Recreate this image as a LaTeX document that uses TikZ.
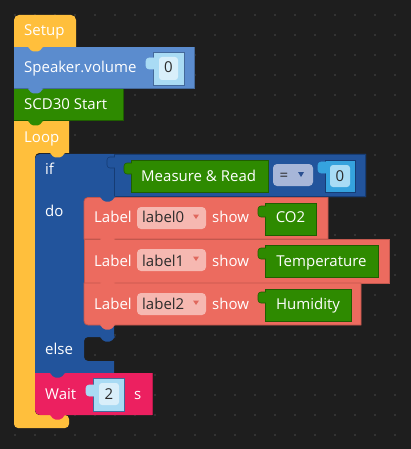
\documentclass[tikz,border=0pt]{standalone}
\usepackage{fontspec}
\setmainfont{Open Sans}
\definecolor{bg}{HTML}{1E1E1E}
\definecolor{dotc}{HTML}{4A4A4A}
\definecolor{yel}{HTML}{FFBF3C}
\definecolor{spk}{HTML}{5B8CCE}
\definecolor{spkd}{HTML}{44699B}
\definecolor{grn}{HTML}{2E8A00}
\definecolor{grnd}{HTML}{1F5E00}
\definecolor{ifb}{HTML}{22549C}
\definecolor{ifd}{HTML}{163C74}
\definecolor{lab}{HTML}{EC6B5F}
\definecolor{labd}{HTML}{C2574D}
\definecolor{ddb}{HTML}{F6B8B1}
\definecolor{waitc}{HTML}{EC2060}
\definecolor{waitd}{HTML}{B81A4B}
\definecolor{val}{HTML}{A9DBF4}
\definecolor{vali}{HTML}{D9EFFA}
\definecolor{cval}{HTML}{35A3DE}
\definecolor{cvali}{HTML}{A8DCF5}
\definecolor{eqb}{HTML}{A7B6D8}
\definecolor{eqarr}{HTML}{2A4F91}
\definecolor{ddarr}{HTML}{E0685D}
\definecolor{dtext}{HTML}{2B2B2B}
\newcommand\stab[3]{\fill[#3,rounded corners=1.5pt] (#1,#2-0.8) -- (#1,#2) -- (#1+4,#2+4.5) -- (#1+11,#2+4.5) -- (#1+15,#2) -- (#1+15,#2-0.8) -- cycle;}
\newcommand\vtab[4]{\filldraw[fill=#3,draw=#4,line width=0.6pt,rounded corners=3pt] (#1+0.8,#2+7) -- (#1-7,#2+7) -- (#1-7,#2+18) -- (#1+0.8,#2+18);}
\tikzset{
  txt/.style={anchor=base west,inner sep=0pt,text=white},
  dtx/.style={anchor=base,inner sep=0pt,text=dtext},
  wtx/.style={anchor=base,inner sep=0pt,text=white},
}
\begin{document}
\begin{tikzpicture}[x=1pt,y=-1pt,font=\fontsize{15}{18}\selectfont]
\useasboundingbox (0,0) rectangle (411,449);
\fill[bg] (0,0) rectangle (411,449);
\foreach \i in {0,...,19} \foreach \j in {0,...,21} \fill[dotc] (15+20*\i,15+20*\j) circle (0.8pt);
% Setup
\fill[yel] (14,47) [rounded corners=5pt] -- (14,15) -- (76,15) [sharp corners] -- (76,47) -- cycle;
% Loop
\fill[yel] (14,121) -- (69,121) -- (69,153) [rounded corners=4pt] -- (35,153) -- (35,415) -- (69,415) -- (69,428) -- (14,428) [sharp corners] -- cycle;
% Speaker
\fill[spk] (14,47) rectangle (194,89);
\draw[spkd,line width=0.8pt] (14,88.6) -- (194,88.6) -- (194,47);
% SCD30
\fill[grn] (14,89) rectangle (123,121);
\draw[grnd,line width=0.8pt] (14,120.6) -- (123,120.6) -- (123,89);
% If block
\fill[ifb] (35,200) [rounded corners=5pt] -- (35,154) [sharp corners] -- (366,154) -- (366,197) [rounded corners=4pt] -- (84,197) -- (84,325) [sharp corners] -- (114,325) -- (114,337) [rounded corners=4pt] -- (84,337) -- (84,361) [sharp corners] -- (114,361) -- (114,373) -- (35,373) -- cycle;
% compare block
\filldraw[fill=ifb,draw=ifd,line width=0.8pt] (114,154.4) rectangle (365.6,196.6);
\vtab{114}{150}{ifb}{ifd}
% Measure & Read
\filldraw[fill=grn,draw=grnd,line width=0.8pt] (131,160) rectangle (268,192);
\vtab{131}{156}{grn}{grnd}
\node[txt] (tmeas) at (141,181) {Measure \& Read};
% = dropdown
\fill[eqb,rounded corners=4pt] (273,164) rectangle (313,186);
\node[dtx] (teq) at (284,180) {=};
\fill[eqarr] (298,172) -- (304,172) -- (301,177) -- cycle;
% compare value 0
\filldraw[fill=cval,draw=ifd,line width=0.6pt] (325,160) rectangle (355,192);
\vtab{325}{155}{cval}{cval}
\fill[cvali,rounded corners=3pt] (330,165) rectangle (350,187);
\node[dtx] (tcv) at (340,181) {0};
% Label blocks
\filldraw[fill=lab,draw=labd,line width=0.8pt] (84,239) [rounded corners=4pt] -- (84,197.4) [sharp corners] -- (328,197.4) -- (328,239) -- cycle;
\filldraw[fill=lab,draw=labd,line width=0.8pt] (84,239) -- (389,239) -- (389,283) -- (84,283) -- cycle;
\filldraw[fill=lab,draw=labd,line width=0.8pt] (84,283) -- (361,283) -- (361,325) [rounded corners=4pt] -- (84,325) [sharp corners] -- cycle;
\stab{100}{197}{ifb}
\stab{100}{239}{lab}
\stab{100}{283}{lab}
\stab{100}{325}{lab}
\stab{100}{337}{ifb}
% Label rows
\foreach \t/\bl/\nm/\vw/\vt/\k in {197/222.5/label0/316/CO2/0, 239/266/label1/378/Temperature/1, 283/309/label2/351/Humidity/2}{
  \node[txt] (tlab\k) at (94,\bl) {Label};
  \fill[ddb,rounded corners=4pt] (137,\t+10) rectangle (206,\t+32);
  \node[dtx,anchor=base west] (tdd\k) at (142,\bl) {\nm};
  \fill[ddarr] (193,\t+17.5) -- (199,\t+17.5) -- (196,\t+22) -- cycle;
  \node[txt] (tshow\k) at (212,\bl) {show};
  \filldraw[fill=grn,draw=grnd,line width=0.8pt] (265,\t+6.5) rectangle (\vw,\t+38.5);
  \vtab{265}{\t+2}{grn}{grnd}
  \node[wtx] (tval\k) at ({(265+\vw)/2},\bl) {\vt};
}
% Wait
\fill[waitc] (35,373) -- (152,373) -- (152,415) [rounded corners=5pt] -- (35,415) [sharp corners] -- cycle;
\draw[waitd,line width=0.8pt] (152,373) -- (152,414.6);
\filldraw[fill=val,draw=spkd,line width=0.5pt] (93,378) rectangle (124,411);
\vtab{93}{378}{val}{val}
\fill[vali,rounded corners=3pt] (99,383) rectangle (119,405);
\node[dtx] (t2) at (109,399) {2};
\node[txt] (twait) at (45,399) {Wait};
\node[txt] (ts) at (134,399) {s};
% tabs
\stab{28}{47}{yel}
\stab{28}{89}{spk}
\stab{28}{121}{grn}
\stab{50}{153}{yel}
\stab{50}{373}{ifb}
\stab{50}{415}{waitc}
% Speaker value
\filldraw[fill=val,draw=spkd,line width=0.5pt] (153,52) rectangle (184,85);
\vtab{153}{51}{val}{val}
\fill[vali,rounded corners=3pt] (159,57) rectangle (178,80);
\node[dtx] (t0) at (168.5,73) {0};
% texts
\node[txt] (tsetup) at (24,36) {Setup};
\node[txt] (tspk) at (24,72.5) {Speaker.volume};
\node[txt] (tscd) at (24,110) {SCD30 Start};
\node[txt] (tloop) at (24,142.5) {Loop};
\node[txt] (tif) at (45,174) {if};
\node[txt] (tdo) at (45,216) {do};
\node[txt] (telse) at (45,354) {else};
\end{tikzpicture}
\end{document}
